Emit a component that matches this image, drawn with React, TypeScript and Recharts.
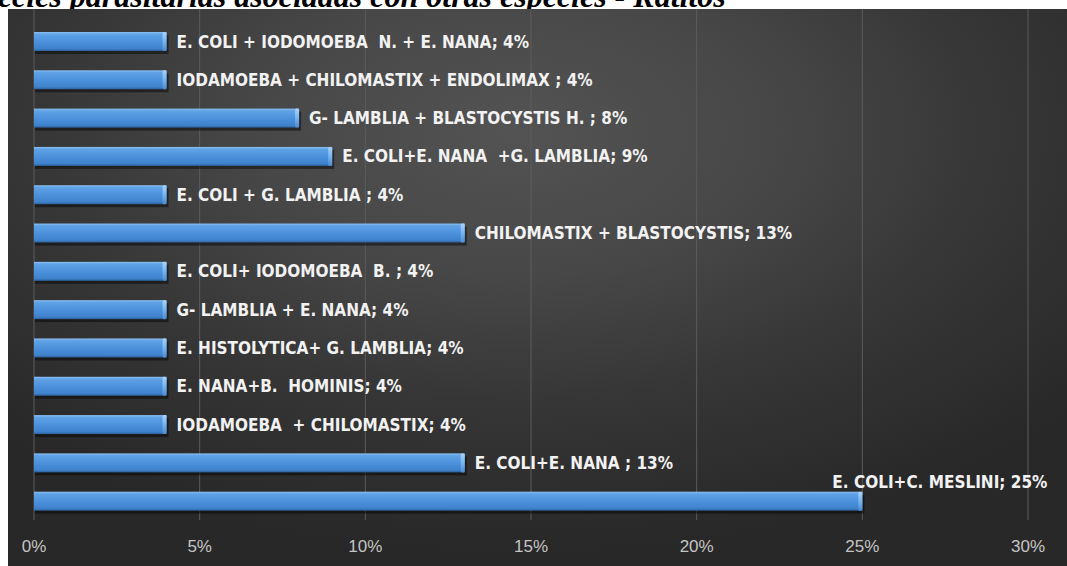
import { Bar, BarChart, CartesianGrid, LabelList, XAxis, YAxis } from 'recharts'

const categories = [
  'E. COLI + IODOMOEBA  N. + E. NANA',
  'IODAMOEBA + CHILOMASTIX + ENDOLIMAX ',
  'G- LAMBLIA + BLASTOCYSTIS H. ',
  'E. COLI+E. NANA  +G. LAMBLIA',
  'E. COLI + G. LAMBLIA ',
  'CHILOMASTIX + BLASTOCYSTIS',
  'E. COLI+ IODOMOEBA  B. ',
  'G- LAMBLIA + E. NANA',
  'E. HISTOLYTICA+ G. LAMBLIA',
  'E. NANA+B.  HOMINIS',
  'IODAMOEBA  + CHILOMASTIX',
  'E. COLI+E. NANA ',
  'E. COLI+C. MESLINI',
]
const values = [4, 4, 8, 9, 4, 13, 4, 4, 4, 4, 4, 13, 25]
const xTicks = [0, 5, 10, 15, 20, 25, 30]
const title = 'Especies parasitarias asociadas con otras especies - Ratitos'

const data = categories.map((name, i) => ({
  name,
  value: values[i],
  label: `${name}; ${values[i]}%`,
}))
const maxValue = Math.max(...values)

const LABEL_FONT = '"Liberation Sans Narrow", "DejaVu Sans Condensed", Arial, sans-serif'

function BarShape(props: any) {
  const { x, y, width, height } = props
  if (!width || width <= 0) return null
  return (
    <g>
      <rect x={x + 1} y={y + 3} width={width + 1} height={height} fill="#000" opacity={0.45} />
      <rect x={x} y={y} width={width} height={height} fill="url(#barGrad)" />
      <rect x={x + width - 4} y={y} width={4} height={height} rx={1.5} fill="url(#capGrad)" />
    </g>
  )
}

function BarLabel(props: any) {
  const vb = props.viewBox ?? {}
  const x = props.x ?? vb.x
  const y = props.y ?? vb.y
  const width = props.width ?? vb.width
  const height = props.height ?? vb.height
  const index = props.index
  const text = props.value
  const common = {
    fill: '#f2f2f2',
    fontFamily: LABEL_FONT,
    fontWeight: 700,
    fontSize: 17,
    style: { whiteSpace: 'pre' as const },
  }
  if (values[index] === maxValue) {
    return (
      <text x={x + width - 30} y={y - 4} {...common}>
        {text}
      </text>
    )
  }
  return (
    <text x={x + width + 10} y={y + height / 2} dominantBaseline="central" {...common}>
      {text}
    </text>
  )
}

export default function App() {
  return (
    <div style={{ position: 'absolute', left: 0, top: 0, width: 1067, height: 566, overflow: 'hidden', background: '#fff' }}>
      <svg width={1067} height={20} style={{ position: 'absolute', left: 0, top: 0, display: 'block' }}>
        <text
          x={-52}
          y={7}
          fontFamily='"Liberation Serif", "Times New Roman", serif'
          fontStyle="italic"
          fontWeight={700}
          fontSize={32}
          fill="#000"
        >
          {title}
        </text>
      </svg>
      <div
        style={{
          position: 'absolute',
          left: 8,
          top: 9,
          width: 1059,
          height: 557,
          background:
            'radial-gradient(ellipse 70% 75% at 48% 22%, #535353 0%, #474747 35%, #363636 65%, #282828 100%)',
        }}
      >
        <BarChart
          width={1059}
          height={557}
          data={data}
          layout="vertical"
          margin={{ top: 0, right: 39, bottom: 16, left: 26 }}
          barSize={19}
        >
          <defs>
            <linearGradient id="barGrad" x1="0" y1="0" x2="0" y2="1">
              <stop offset="0%" stopColor="#8cc0f2" />
              <stop offset="12%" stopColor="#5fa2e6" />
              <stop offset="55%" stopColor="#4a8fda" />
              <stop offset="88%" stopColor="#3f82cc" />
              <stop offset="100%" stopColor="#2c5f99" />
            </linearGradient>
            <linearGradient id="capGrad" x1="0" y1="0" x2="0" y2="1">
              <stop offset="0%" stopColor="#a9d3fa" />
              <stop offset="50%" stopColor="#78b4ee" />
              <stop offset="100%" stopColor="#4d8bd0" />
            </linearGradient>
          </defs>
          <CartesianGrid horizontal={false} stroke="#5c5c5c" strokeWidth={1} />
          <XAxis
            type="number"
            domain={[0, 30]}
            ticks={xTicks}
            tickFormatter={(v) => `${v}%`}
            axisLine={false}
            tickLine={false}
            tickMargin={14}
            height={30}
            tick={{ fill: '#c4c4c4', fontSize: 17, fontFamily: '"Liberation Sans", Arial, sans-serif' }}
          />
          <YAxis type="category" dataKey="name" hide padding={{ top: 13, bottom: 0 }} />
          <Bar dataKey="value" shape={<BarShape />} isAnimationActive={false}>
            <LabelList dataKey="label" content={<BarLabel />} />
          </Bar>
        </BarChart>
      </div>
    </div>
  )
}
